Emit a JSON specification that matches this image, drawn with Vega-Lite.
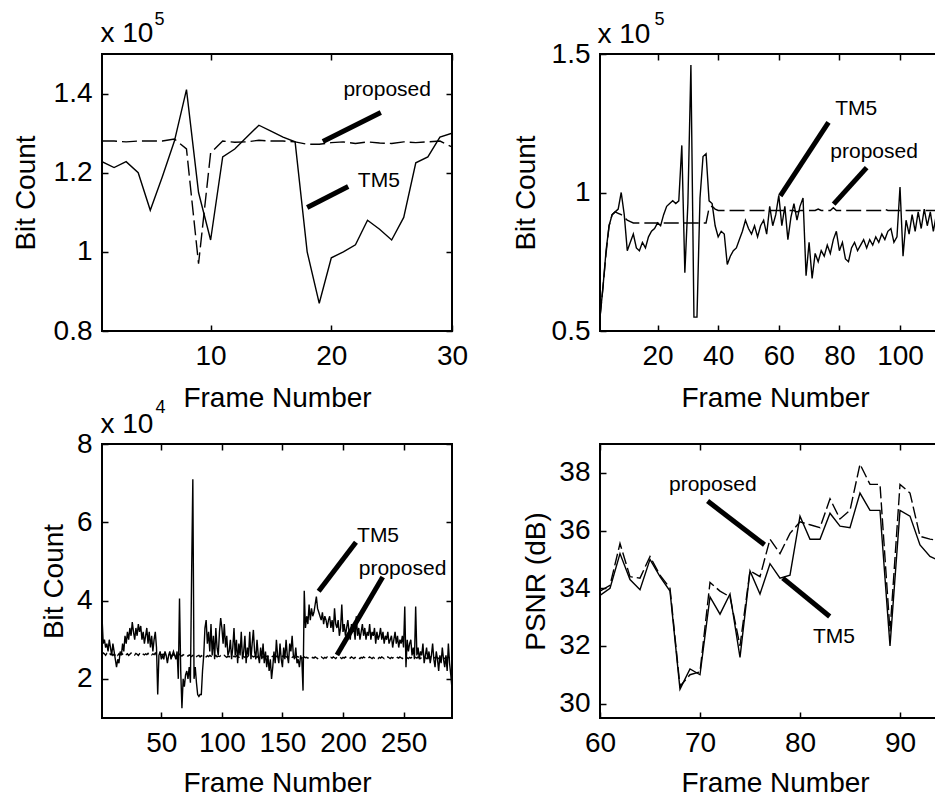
{
  "$schema": "https://vega.github.io/schema/vega-lite/v6.json",
  "background": "white",
  "padding": {"left": 10, "top": 9, "right": 0, "bottom": 0},
  "columns": 2,
  "bounds": "flush",
  "spacing": {"row": 113, "column": 148},
  "config": {
    "font": "Liberation Sans",
    "view": {"stroke": "black", "strokeWidth": 2},
    "axis": {"domain": false, "grid": false, "ticks": true, "tickSize": -6, "tickWidth": 1.5, "tickColor": "black",
             "labelFont": "Liberation Sans", "labelFontSize": 28, "labelColor": "black", "labelFlush": false, "labelOverlap": false,
             "titleFont": "Liberation Sans", "titleFontSize": 28, "titleFontWeight": "normal", "titleColor": "black"},
    "text": {"font": "Liberation Sans", "fontSize": 21, "color": "black"}
  },
  "concat": [
    {
      "width": 350, "height": 277,
      "data": {"values": [
        {"f":1,"a":1.228,"b":1.28},{"f":2,"a":1.213,"b":1.28},{"f":3,"a":1.228,"b":1.278},{"f":4,"a":1.2,"b":1.28},{"f":5,"a":1.105,"b":1.28},
        {"f":6,"a":1.19,"b":1.28},{"f":7,"a":1.28,"b":1.285},{"f":8,"a":1.41,"b":1.26},{"f":9,"a":1.15,"b":0.97},{"f":10,"a":1.03,"b":1.25},
        {"f":11,"a":1.24,"b":1.28},{"f":12,"a":1.26,"b":1.277},{"f":13,"a":1.29,"b":1.278},{"f":14,"a":1.32,"b":1.282},{"f":15,"a":1.305,"b":1.28},
        {"f":16,"a":1.29,"b":1.28},{"f":17,"a":1.278,"b":1.278},{"f":18,"a":1.0,"b":1.272},{"f":19,"a":0.87,"b":1.272},{"f":20,"a":0.985,"b":1.276},
        {"f":21,"a":1.0,"b":1.278},{"f":22,"a":1.018,"b":1.274},{"f":23,"a":1.08,"b":1.278},{"f":24,"a":1.057,"b":1.275},{"f":25,"a":1.03,"b":1.274},
        {"f":26,"a":1.087,"b":1.278},{"f":27,"a":1.225,"b":1.276},{"f":28,"a":1.24,"b":1.278},{"f":29,"a":1.29,"b":1.28},{"f":30,"a":1.3,"b":1.265}
      ]},
      "layer": [
        {"mark": {"type": "line", "color": "black", "strokeWidth": 1.4, "clip": true},
         "encoding": {
           "x": {"field": "f", "type": "quantitative", "scale": {"domain": [1, 30], "nice": false, "zero": false},
                 "axis": {"orient": "bottom", "values": [10, 20, 30], "title": "Frame Number", "titleY": 75, "titleBaseline": "alphabetic", "labelPadding": 39, "labelBaseline": "alphabetic"}},
           "y": {"field": "a", "type": "quantitative", "scale": {"domain": [0.8, 1.5], "nice": false, "zero": false},
                 "axis": {"orient": "left", "values": [0.8, 1, 1.2, 1.4], "format": "~g", "title": "Bit Count", "titleX": -68, "titleBaseline": "alphabetic", "labelPadding": 16}}
         }},
        {"mark": {"type": "line", "color": "black", "strokeWidth": 1.4, "strokeDash": [15, 5], "clip": true},
         "encoding": {
           "x": {"field": "f", "type": "quantitative",
                 "axis": {"orient": "top", "values": [10, 20, 30], "labels": false, "title": "x 10", "titleX": -2, "titleY": -13, "titleAlign": "left", "titleBaseline": "alphabetic", "titleAngle": 0}},
           "y": {"field": "b", "type": "quantitative",
                 "axis": {"orient": "right", "values": [0.8, 1, 1.2, 1.4], "labels": false, "title": "5", "titleX": -298, "titleY": -30, "titleAlign": "left", "titleBaseline": "alphabetic", "titleAngle": 0, "titleFontSize": 18}}
         }},
        {"data": {"values": [{"x": 19.3, "y": 1.279, "x2": 24.1, "y2": 1.352}, {"x": 18.0, "y": 1.112, "x2": 21.4, "y2": 1.165}]},
         "mark": {"type": "rule", "strokeWidth": 5, "color": "black"},
         "encoding": {"x": {"field": "x", "type": "quantitative", "axis": null}, "y": {"field": "y", "type": "quantitative", "axis": null}, "x2": {"field": "x2"}, "y2": {"field": "y2"}}},
        {"data": {"values": [{"x": 21.0, "y": 1.41, "t": "proposed"}, {"x": 22.2, "y": 1.178, "t": "TM5"}]},
         "mark": {"type": "text", "align": "left", "baseline": "middle"},
         "encoding": {"x": {"field": "x", "type": "quantitative", "axis": null}, "y": {"field": "y", "type": "quantitative", "axis": null}, "text": {"field": "t"}}}
      ],
      "resolve": {"axis": {"x": "independent", "y": "independent"}}
    },
    {
      "width": 350, "height": 277,
      "data": {"values": [
        {"f":1,"a":0.55,"b":0.55},{"f":2,"a":0.66,"b":0.66},{"f":3,"a":0.79,"b":0.78},{"f":4,"a":0.88,"b":0.88},{"f":5,"a":0.92,"b":0.92},
        {"f":6,"a":0.93,"b":0.93},{"f":7,"a":0.94,"b":0.925},{"f":8,"a":1.0,"b":0.92},{"f":9,"a":0.92,"b":0.91},{"f":10,"a":0.79,"b":0.9},
        {"f":11,"a":0.82,"b":0.895},{"f":12,"a":0.85,"b":0.89},{"f":13,"a":0.8,"b":0.89},{"f":14,"a":0.79,"b":0.89},{"f":15,"a":0.82,"b":0.89},
        {"f":16,"a":0.8,"b":0.89},{"f":17,"a":0.84,"b":0.89},{"f":18,"a":0.86,"b":0.89},{"f":19,"a":0.87,"b":0.89},{"f":20,"a":0.89,"b":0.89},
        {"f":21,"a":0.88,"b":0.885},{"f":22,"a":0.92,"b":0.89},{"f":23,"a":0.95,"b":0.89},{"f":24,"a":0.96,"b":0.89},{"f":25,"a":0.97,"b":0.89},
        {"f":26,"a":0.96,"b":0.89},{"f":27,"a":0.97,"b":0.89},{"f":28,"a":1.17,"b":0.89},{"f":29,"a":0.71,"b":0.89},{"f":30,"a":0.96,"b":0.89},
        {"f":31,"a":1.46,"b":0.89},{"f":32,"a":0.55,"b":0.89},{"f":33,"a":0.55,"b":0.89},{"f":34,"a":0.98,"b":0.89},{"f":35,"a":1.13,"b":0.89},
        {"f":36,"a":1.14,"b":0.89},{"f":37,"a":0.97,"b":0.945},{"f":38,"a":0.96,"b":0.95},{"f":39,"a":0.88,"b":0.94},{"f":40,"a":0.84,"b":0.935},
        {"f":41,"a":0.86,"b":0.935},{"f":42,"a":0.85,"b":0.935},{"f":43,"a":0.74,"b":0.935},{"f":44,"a":0.77,"b":0.935},{"f":45,"a":0.79,"b":0.935},
        {"f":46,"a":0.8,"b":0.935},{"f":47,"a":0.83,"b":0.935},{"f":48,"a":0.86,"b":0.935},{"f":49,"a":0.9,"b":0.935},{"f":50,"a":0.87,"b":0.935},
        {"f":51,"a":0.85,"b":0.935},{"f":52,"a":0.88,"b":0.935},{"f":53,"a":0.84,"b":0.935},{"f":54,"a":0.88,"b":0.935},{"f":55,"a":0.9,"b":0.935},
        {"f":56,"a":0.85,"b":0.935},{"f":57,"a":0.95,"b":0.935},{"f":58,"a":0.88,"b":0.935},{"f":59,"a":0.92,"b":0.935},{"f":60,"a":0.99,"b":0.935},
        {"f":61,"a":0.88,"b":0.935},{"f":62,"a":0.95,"b":0.935},{"f":63,"a":0.83,"b":0.935},{"f":64,"a":0.91,"b":0.935},{"f":65,"a":0.96,"b":0.935},
        {"f":66,"a":0.9,"b":0.93},{"f":67,"a":0.95,"b":0.935},{"f":68,"a":0.98,"b":0.935},{"f":69,"a":0.7,"b":0.935},{"f":70,"a":0.82,"b":0.935},
        {"f":71,"a":0.69,"b":0.935},{"f":72,"a":0.78,"b":0.935},{"f":73,"a":0.75,"b":0.94},{"f":74,"a":0.79,"b":0.935},{"f":75,"a":0.77,"b":0.935},
        {"f":76,"a":0.81,"b":0.935},{"f":77,"a":0.78,"b":0.935},{"f":78,"a":0.83,"b":0.945},{"f":79,"a":0.86,"b":0.935},{"f":80,"a":0.79,"b":0.935},
        {"f":81,"a":0.82,"b":0.935},{"f":82,"a":0.76,"b":0.935},{"f":83,"a":0.75,"b":0.935},{"f":84,"a":0.8,"b":0.935},{"f":85,"a":0.82,"b":0.935},
        {"f":86,"a":0.79,"b":0.935},{"f":87,"a":0.81,"b":0.935},{"f":88,"a":0.83,"b":0.935},{"f":89,"a":0.8,"b":0.935},{"f":90,"a":0.83,"b":0.935},
        {"f":91,"a":0.81,"b":0.935},{"f":92,"a":0.84,"b":0.935},{"f":93,"a":0.82,"b":0.935},{"f":94,"a":0.85,"b":0.935},{"f":95,"a":0.83,"b":0.94},
        {"f":96,"a":0.86,"b":0.935},{"f":97,"a":0.87,"b":0.935},{"f":98,"a":0.82,"b":0.935},{"f":99,"a":0.84,"b":0.935},{"f":100,"a":1.02,"b":0.935},
        {"f":101,"a":0.77,"b":0.935},{"f":102,"a":0.9,"b":0.935},{"f":103,"a":0.85,"b":0.935},{"f":104,"a":0.92,"b":0.935},{"f":105,"a":0.86,"b":0.935},
        {"f":106,"a":0.93,"b":0.935},{"f":107,"a":0.87,"b":0.935},{"f":108,"a":0.94,"b":0.935},{"f":109,"a":0.88,"b":0.935},{"f":110,"a":0.93,"b":0.935},
        {"f":111,"a":0.86,"b":0.935},{"f":112,"a":0.92,"b":0.935},{"f":113,"a":0.89,"b":0.935},{"f":114,"a":0.95,"b":0.935},{"f":115,"a":0.87,"b":0.935},
        {"f":116,"a":0.93,"b":0.935}
      ]},
      "layer": [
        {"mark": {"type": "line", "color": "black", "strokeWidth": 1.4, "clip": true},
         "encoding": {
           "x": {"field": "f", "type": "quantitative", "scale": {"domain": [1, 116.5], "nice": false, "zero": false},
                 "axis": {"orient": "bottom", "values": [20, 40, 60, 80, 100, 120], "title": "Frame Number", "titleY": 75, "titleBaseline": "alphabetic", "labelPadding": 39, "labelBaseline": "alphabetic"}},
           "y": {"field": "a", "type": "quantitative", "scale": {"domain": [0.5, 1.5], "nice": false, "zero": false},
                 "axis": {"orient": "left", "values": [0.5, 1, 1.5], "format": "~g", "title": "Bit Count", "titleX": -66, "titleBaseline": "alphabetic", "labelPadding": 16}}
         }},
        {"mark": {"type": "line", "color": "black", "strokeWidth": 1.4, "strokeDash": [15, 5], "clip": true},
         "encoding": {
           "x": {"field": "f", "type": "quantitative",
                 "axis": {"orient": "top", "values": [20, 40, 60, 80, 100], "labels": false, "title": "x 10", "titleX": -3, "titleY": -12, "titleAlign": "left", "titleBaseline": "alphabetic", "titleAngle": 0}},
           "y": {"field": "b", "type": "quantitative",
                 "axis": {"orient": "right", "values": [0.5, 1, 1.5], "labels": false, "title": "5", "titleX": -296, "titleY": -30, "titleAlign": "left", "titleBaseline": "alphabetic", "titleAngle": 0, "titleFontSize": 18}}
         }},
        {"data": {"values": [{"x": 60.5, "y": 0.988, "x2": 76.4, "y2": 1.253}, {"x": 78.1, "y": 0.958, "x2": 89.0, "y2": 1.09}]},
         "mark": {"type": "rule", "strokeWidth": 5, "color": "black"},
         "encoding": {"x": {"field": "x", "type": "quantitative", "axis": null}, "y": {"field": "y", "type": "quantitative", "axis": null}, "x2": {"field": "x2"}, "y2": {"field": "y2"}}},
        {"data": {"values": [{"x": 78.6, "y": 1.303, "t": "TM5"}, {"x": 77.0, "y": 1.145, "t": "proposed"}]},
         "mark": {"type": "text", "align": "left", "baseline": "middle"},
         "encoding": {"x": {"field": "x", "type": "quantitative", "axis": null}, "y": {"field": "y", "type": "quantitative", "axis": null}, "text": {"field": "t"}}}
      ],
      "resolve": {"axis": {"x": "independent", "y": "independent"}}
    },
    {
      "width": 350, "height": 274,
      "data": {"values": [
        {"f":1,"a":3.6,"b":2.62},{"f":2,"a":2.9,"b":2.66},{"f":3,"a":3.0,"b":2.64},{"f":4,"a":2.8,"b":2.6},{"f":5,"a":2.9,"b":2.65},
        {"f":6,"a":2.7,"b":2.63},{"f":7,"a":3.0,"b":2.67},{"f":8,"a":2.8,"b":2.62},{"f":9,"a":2.6,"b":2.64},{"f":10,"a":2.9,"b":2.6},
        {"f":11,"a":2.7,"b":2.63},{"f":12,"a":2.5,"b":2.61},{"f":13,"a":2.3,"b":2.65},{"f":14,"a":2.5,"b":2.6},{"f":15,"a":2.4,"b":2.64},
        {"f":16,"a":2.7,"b":2.62},{"f":17,"a":2.6,"b":2.66},{"f":18,"a":2.9,"b":2.63},{"f":19,"a":2.7,"b":2.61},{"f":20,"a":3.1,"b":2.65},
        {"f":21,"a":2.9,"b":2.62},{"f":22,"a":3.2,"b":2.64},{"f":23,"a":3.0,"b":2.6},{"f":24,"a":3.3,"b":2.63},{"f":25,"a":3.1,"b":2.66},
        {"f":26,"a":3.45,"b":2.62},{"f":27,"a":3.2,"b":2.64},{"f":28,"a":3.0,"b":2.61},{"f":29,"a":3.3,"b":2.65},{"f":30,"a":3.1,"b":2.63},
        {"f":31,"a":3.4,"b":2.6},{"f":32,"a":3.2,"b":2.64},{"f":33,"a":3.35,"b":2.62},{"f":34,"a":3.0,"b":2.66},{"f":35,"a":3.2,"b":2.63},
        {"f":36,"a":2.9,"b":2.61},{"f":37,"a":3.1,"b":2.64},{"f":38,"a":3.3,"b":2.62},{"f":39,"a":2.9,"b":2.65},{"f":40,"a":3.2,"b":2.6},
        {"f":41,"a":2.8,"b":2.63},{"f":42,"a":3.1,"b":2.61},{"f":43,"a":2.7,"b":2.64},{"f":44,"a":3.0,"b":2.62},{"f":45,"a":3.2,"b":2.66},
        {"f":46,"a":2.8,"b":2.6},{"f":47,"a":1.6,"b":2.63},{"f":48,"a":2.6,"b":2.61},{"f":49,"a":2.7,"b":2.64},{"f":50,"a":2.5,"b":2.62},
        {"f":51,"a":2.6,"b":2.6},{"f":52,"a":2.5,"b":2.63},{"f":53,"a":2.7,"b":2.61},{"f":54,"a":2.6,"b":2.64},{"f":55,"a":2.4,"b":2.62},
        {"f":56,"a":2.6,"b":2.6},{"f":57,"a":2.7,"b":2.63},{"f":58,"a":2.5,"b":2.61},{"f":59,"a":2.6,"b":2.59},{"f":60,"a":2.7,"b":2.62},
        {"f":61,"a":2.6,"b":2.6},{"f":62,"a":2.5,"b":2.62},{"f":63,"a":2.7,"b":2.58},{"f":64,"a":2.0,"b":2.61},{"f":65,"a":4.05,"b":2.63},
        {"f":66,"a":2.2,"b":2.6},{"f":67,"a":1.25,"b":2.58},{"f":68,"a":2.0,"b":2.62},{"f":69,"a":1.8,"b":2.6},{"f":70,"a":2.1,"b":2.57},
        {"f":71,"a":2.2,"b":2.6},{"f":72,"a":2.0,"b":2.58},{"f":73,"a":2.3,"b":2.61},{"f":74,"a":1.9,"b":2.59},{"f":75,"a":4.7,"b":2.57},
        {"f":76,"a":7.1,"b":2.6},{"f":77,"a":2.0,"b":2.58},{"f":78,"a":2.3,"b":2.61},{"f":79,"a":1.9,"b":2.57},{"f":80,"a":1.6,"b":2.59},
        {"f":81,"a":1.55,"b":2.6},{"f":82,"a":1.6,"b":2.56},{"f":83,"a":1.6,"b":2.59},{"f":84,"a":2.2,"b":2.57},{"f":85,"a":2.6,"b":2.6},
        {"f":86,"a":3.3,"b":2.58},{"f":87,"a":3.5,"b":2.56},{"f":88,"a":2.9,"b":2.59},{"f":89,"a":3.2,"b":2.57},{"f":90,"a":2.7,"b":2.6},
        {"f":91,"a":3.4,"b":2.58},{"f":92,"a":2.6,"b":2.55},{"f":93,"a":3.1,"b":2.59},{"f":94,"a":2.5,"b":2.57},{"f":95,"a":3.3,"b":2.6},
        {"f":96,"a":2.8,"b":2.56},{"f":97,"a":2.6,"b":2.58},{"f":98,"a":3.2,"b":2.57},{"f":99,"a":3.55,"b":2.59},{"f":100,"a":3.3,"b":2.56},
        {"f":101,"a":2.9,"b":2.58},{"f":102,"a":3.4,"b":2.6},{"f":103,"a":2.8,"b":2.57},{"f":104,"a":3.1,"b":2.55},{"f":105,"a":2.6,"b":2.58},
        {"f":106,"a":2.7,"b":2.56},{"f":107,"a":3.0,"b":2.59},{"f":108,"a":2.5,"b":2.57},{"f":109,"a":2.8,"b":2.55},{"f":110,"a":3.3,"b":2.58},
        {"f":111,"a":2.6,"b":2.56},{"f":112,"a":3.0,"b":2.59},{"f":113,"a":2.4,"b":2.57},{"f":114,"a":2.9,"b":2.55},{"f":115,"a":2.6,"b":2.58},
        {"f":116,"a":3.2,"b":2.56},{"f":117,"a":2.5,"b":2.59},{"f":118,"a":2.7,"b":2.57},{"f":119,"a":3.1,"b":2.55},{"f":120,"a":2.4,"b":2.58},
        {"f":121,"a":2.8,"b":2.56},{"f":122,"a":2.6,"b":2.59},{"f":123,"a":3.2,"b":2.57},{"f":124,"a":2.5,"b":2.55},{"f":125,"a":2.9,"b":2.58},
        {"f":126,"a":3.25,"b":2.56},{"f":127,"a":2.7,"b":2.58},{"f":128,"a":2.5,"b":2.57},{"f":129,"a":3.0,"b":2.55},{"f":130,"a":2.6,"b":2.58},
        {"f":131,"a":2.4,"b":2.56},{"f":132,"a":2.8,"b":2.59},{"f":133,"a":2.5,"b":2.57},{"f":134,"a":2.9,"b":2.55},{"f":135,"a":2.4,"b":2.58},
        {"f":136,"a":2.7,"b":2.56},{"f":137,"a":2.3,"b":2.58},{"f":138,"a":2.6,"b":2.57},{"f":139,"a":2.2,"b":2.55},{"f":140,"a":2.5,"b":2.58},
        {"f":141,"a":2.0,"b":2.56},{"f":142,"a":2.3,"b":2.58},{"f":143,"a":2.7,"b":2.57},{"f":144,"a":2.4,"b":2.55},{"f":145,"a":3.0,"b":2.58},
        {"f":146,"a":2.6,"b":2.56},{"f":147,"a":2.4,"b":2.58},{"f":148,"a":2.9,"b":2.57},{"f":149,"a":2.5,"b":2.55},{"f":150,"a":2.3,"b":2.58},
        {"f":151,"a":2.8,"b":2.56},{"f":152,"a":2.5,"b":2.58},{"f":153,"a":3.0,"b":2.57},{"f":154,"a":2.6,"b":2.55},{"f":155,"a":2.4,"b":2.57},
        {"f":156,"a":2.9,"b":2.56},{"f":157,"a":2.7,"b":2.58},{"f":158,"a":3.1,"b":2.55},{"f":159,"a":2.6,"b":2.57},{"f":160,"a":2.5,"b":2.56},
        {"f":161,"a":2.8,"b":2.55},{"f":162,"a":2.4,"b":2.57},{"f":163,"a":2.5,"b":2.56},{"f":164,"a":2.3,"b":2.54},{"f":165,"a":2.6,"b":2.57},
        {"f":166,"a":2.5,"b":2.55},{"f":167,"a":1.7,"b":2.53},{"f":168,"a":4.25,"b":2.56},{"f":169,"a":3.3,"b":2.54},{"f":170,"a":3.6,"b":2.55},
        {"f":171,"a":3.4,"b":2.53},{"f":172,"a":3.9,"b":2.56},{"f":173,"a":3.5,"b":2.54},{"f":174,"a":3.8,"b":2.52},{"f":175,"a":3.6,"b":2.55},
        {"f":176,"a":3.7,"b":2.53},{"f":177,"a":3.9,"b":2.56},{"f":178,"a":4.1,"b":2.54},{"f":179,"a":3.8,"b":2.52},{"f":180,"a":3.7,"b":2.55},
        {"f":181,"a":3.6,"b":2.53},{"f":182,"a":3.5,"b":2.56},{"f":183,"a":3.7,"b":2.54},{"f":184,"a":3.4,"b":2.52},{"f":185,"a":3.6,"b":2.55},
        {"f":186,"a":3.5,"b":2.53},{"f":187,"a":3.3,"b":2.56},{"f":188,"a":3.5,"b":2.54},{"f":189,"a":3.6,"b":2.52},{"f":190,"a":3.3,"b":2.55},
        {"f":191,"a":3.5,"b":2.53},{"f":192,"a":3.2,"b":2.56},{"f":193,"a":3.8,"b":2.54},{"f":194,"a":3.4,"b":2.52},{"f":195,"a":3.3,"b":2.55},
        {"f":196,"a":3.5,"b":2.53},{"f":197,"a":3.1,"b":2.56},{"f":198,"a":3.3,"b":2.54},{"f":199,"a":3.9,"b":2.52},{"f":200,"a":3.2,"b":2.55},
        {"f":201,"a":3.4,"b":2.53},{"f":202,"a":3.1,"b":2.56},{"f":203,"a":3.3,"b":2.54},{"f":204,"a":3.5,"b":2.52},{"f":205,"a":3.2,"b":2.55},
        {"f":206,"a":3.0,"b":2.53},{"f":207,"a":3.4,"b":2.56},{"f":208,"a":3.2,"b":2.54},{"f":209,"a":3.3,"b":2.52},{"f":210,"a":3.0,"b":2.55},
        {"f":211,"a":3.6,"b":2.53},{"f":212,"a":3.1,"b":2.56},{"f":213,"a":3.3,"b":2.54},{"f":214,"a":3.0,"b":2.52},{"f":215,"a":3.2,"b":2.55},
        {"f":216,"a":3.4,"b":2.53},{"f":217,"a":3.1,"b":2.56},{"f":218,"a":3.3,"b":2.54},{"f":219,"a":3.0,"b":2.52},{"f":220,"a":3.2,"b":2.55},
        {"f":221,"a":3.1,"b":2.53},{"f":222,"a":3.4,"b":2.56},{"f":223,"a":3.0,"b":2.54},{"f":224,"a":3.2,"b":2.52},{"f":225,"a":3.1,"b":2.55},
        {"f":226,"a":3.3,"b":2.53},{"f":227,"a":2.9,"b":2.56},{"f":228,"a":3.2,"b":2.54},{"f":229,"a":3.0,"b":2.52},{"f":230,"a":3.1,"b":2.55},
        {"f":231,"a":3.3,"b":2.53},{"f":232,"a":3.0,"b":2.56},{"f":233,"a":3.2,"b":2.54},{"f":234,"a":2.9,"b":2.52},{"f":235,"a":3.1,"b":2.55},
        {"f":236,"a":3.0,"b":2.53},{"f":237,"a":3.2,"b":2.56},{"f":238,"a":2.9,"b":2.54},{"f":239,"a":3.0,"b":2.52},{"f":240,"a":3.1,"b":2.55},
        {"f":241,"a":2.8,"b":2.53},{"f":242,"a":3.0,"b":2.56},{"f":243,"a":3.2,"b":2.54},{"f":244,"a":2.9,"b":2.52},{"f":245,"a":3.1,"b":2.55},
        {"f":246,"a":2.8,"b":2.53},{"f":247,"a":3.0,"b":2.56},{"f":248,"a":2.9,"b":2.54},{"f":249,"a":3.1,"b":2.52},{"f":250,"a":2.8,"b":2.55},
        {"f":251,"a":3.85,"b":2.53},{"f":252,"a":2.3,"b":2.5},{"f":253,"a":3.0,"b":2.54},{"f":254,"a":2.7,"b":2.52},{"f":255,"a":2.9,"b":2.55},
        {"f":256,"a":3.0,"b":2.53},{"f":257,"a":2.6,"b":2.56},{"f":258,"a":2.8,"b":2.54},{"f":259,"a":2.5,"b":2.52},{"f":260,"a":3.85,"b":2.55},
        {"f":261,"a":2.6,"b":2.53},{"f":262,"a":2.8,"b":2.56},{"f":263,"a":2.5,"b":2.54},{"f":264,"a":2.7,"b":2.52},{"f":265,"a":2.6,"b":2.55},
        {"f":266,"a":2.9,"b":2.53},{"f":267,"a":2.4,"b":2.56},{"f":268,"a":2.6,"b":2.54},{"f":269,"a":2.8,"b":2.52},{"f":270,"a":2.5,"b":2.55},
        {"f":271,"a":2.7,"b":2.53},{"f":272,"a":2.4,"b":2.56},{"f":273,"a":2.6,"b":2.54},{"f":274,"a":2.9,"b":2.52},{"f":275,"a":2.5,"b":2.55},
        {"f":276,"a":2.3,"b":2.53},{"f":277,"a":2.7,"b":2.56},{"f":278,"a":2.5,"b":2.54},{"f":279,"a":2.2,"b":2.52},{"f":280,"a":2.6,"b":2.55},
        {"f":281,"a":2.4,"b":2.53},{"f":282,"a":2.8,"b":2.56},{"f":283,"a":2.5,"b":2.54},{"f":284,"a":2.3,"b":2.52},{"f":285,"a":2.6,"b":2.55},
        {"f":286,"a":2.2,"b":2.53},{"f":287,"a":2.9,"b":2.56},{"f":288,"a":2.4,"b":2.54},{"f":289,"a":2.1,"b":2.52},{"f":290,"a":1.75,"b":2.5}
      ]},
      "layer": [
        {"mark": {"type": "line", "color": "black", "strokeWidth": 1.4, "clip": true},
         "encoding": {
           "x": {"field": "f", "type": "quantitative", "scale": {"domain": [1, 290], "nice": false, "zero": false},
                 "axis": {"orient": "bottom", "values": [50, 100, 150, 200, 250], "title": "Frame Number", "titleY": 73, "titleBaseline": "alphabetic", "labelPadding": 39, "labelBaseline": "alphabetic"}},
           "y": {"field": "a", "type": "quantitative", "scale": {"domain": [1, 8], "nice": false, "zero": false},
                 "axis": {"orient": "left", "values": [2, 4, 6, 8], "format": "~g", "title": "Bit Count", "titleX": -40, "titleBaseline": "alphabetic", "labelPadding": 16}}
         }},
        {"mark": {"type": "line", "color": "black", "strokeWidth": 1.4, "strokeDash": [8, 4], "clip": true},
         "encoding": {
           "x": {"field": "f", "type": "quantitative",
                 "axis": {"orient": "top", "values": [50, 100, 150, 200, 250], "labels": false, "title": "x 10", "titleX": -2, "titleY": -12, "titleAlign": "left", "titleBaseline": "alphabetic", "titleAngle": 0}},
           "y": {"field": "b", "type": "quantitative",
                 "axis": {"orient": "right", "values": [2, 4, 6, 8], "labels": false, "title": "4", "titleX": -297, "titleY": -32, "titleAlign": "left", "titleBaseline": "alphabetic", "titleAngle": 0, "titleFontSize": 18}}
         }},
        {"data": {"values": [{"x": 179.9, "y": 4.24, "x2": 210.7, "y2": 5.49}, {"x": 195, "y": 2.61, "x2": 232.8, "y2": 4.6}]},
         "mark": {"type": "rule", "strokeWidth": 5, "color": "black"},
         "encoding": {"x": {"field": "x", "type": "quantitative", "axis": null}, "y": {"field": "y", "type": "quantitative", "axis": null}, "x2": {"field": "x2"}, "y2": {"field": "y2"}}},
        {"data": {"values": [{"x": 211.6, "y": 5.65, "t": "TM5"}, {"x": 213, "y": 4.81, "t": "proposed"}]},
         "mark": {"type": "text", "align": "left", "baseline": "middle"},
         "encoding": {"x": {"field": "x", "type": "quantitative", "axis": null}, "y": {"field": "y", "type": "quantitative", "axis": null}, "text": {"field": "t"}}}
      ],
      "resolve": {"axis": {"x": "independent", "y": "independent"}}
    },
    {
      "width": 350, "height": 274,
      "data": {"values": [
        {"f":60,"a":33.75,"b":33.9},{"f":61,"a":34.0,"b":34.1},{"f":62,"a":35.2,"b":35.55},{"f":63,"a":34.3,"b":34.4},{"f":64,"a":33.95,"b":34.35},
        {"f":65,"a":35.0,"b":35.1},{"f":66,"a":34.4,"b":34.45},{"f":67,"a":33.9,"b":34.0},{"f":68,"a":30.5,"b":30.6},{"f":69,"a":31.2,"b":31.0},
        {"f":70,"a":31.0,"b":31.1},{"f":71,"a":33.7,"b":34.2},{"f":72,"a":33.1,"b":33.9},{"f":73,"a":33.8,"b":33.7},{"f":74,"a":31.6,"b":32.0},
        {"f":75,"a":34.6,"b":34.6},{"f":76,"a":33.8,"b":34.4},{"f":77,"a":34.85,"b":35.7},{"f":78,"a":34.35,"b":35.2},{"f":79,"a":34.45,"b":35.9},
        {"f":80,"a":36.5,"b":36.3},{"f":81,"a":35.7,"b":36.2},{"f":82,"a":35.7,"b":36.1},{"f":83,"a":36.6,"b":37.1},{"f":84,"a":36.15,"b":36.4},
        {"f":85,"a":36.1,"b":36.7},{"f":86,"a":37.3,"b":38.3},{"f":87,"a":36.7,"b":37.6},{"f":88,"a":36.7,"b":37.6},{"f":89,"a":32.0,"b":32.5},
        {"f":90,"a":36.7,"b":37.6},{"f":91,"a":36.5,"b":37.3},{"f":92,"a":35.5,"b":35.8},{"f":93,"a":35.1,"b":35.7},{"f":94,"a":34.95,"b":35.65},
        {"f":95,"a":34.9,"b":35.65}
      ]},
      "layer": [
        {"mark": {"type": "line", "color": "black", "strokeWidth": 1.4, "clip": true},
         "encoding": {
           "x": {"field": "f", "type": "quantitative", "scale": {"domain": [60, 95], "nice": false, "zero": false},
                 "axis": {"orient": "bottom", "values": [60, 70, 80, 90], "title": "Frame Number", "titleY": 73, "titleBaseline": "alphabetic", "labelPadding": 39, "labelBaseline": "alphabetic"}},
           "y": {"field": "a", "type": "quantitative", "scale": {"domain": [29.5, 39], "nice": false, "zero": false},
                 "axis": {"orient": "left", "values": [30, 32, 34, 36, 38], "format": "~g", "title": "PSNR (dB)", "titleX": -56, "titleBaseline": "alphabetic", "labelPadding": 16}}
         }},
        {"mark": {"type": "line", "color": "black", "strokeWidth": 1.4, "strokeDash": [12, 4], "clip": true},
         "encoding": {
           "x": {"field": "f", "type": "quantitative",
                 "axis": {"orient": "top", "values": [60, 70, 80, 90], "labels": false, "title": null}},
           "y": {"field": "b", "type": "quantitative",
                 "axis": {"orient": "right", "values": [30, 32, 34, 36, 38], "labels": false, "title": null}}
         }},
        {"data": {"values": [{"x": 70.76, "y": 37.02, "x2": 76.45, "y2": 35.51}, {"x": 78.28, "y": 34.35, "x2": 82.97, "y2": 33.02}]},
         "mark": {"type": "rule", "strokeWidth": 5, "color": "black"},
         "encoding": {"x": {"field": "x", "type": "quantitative", "axis": null}, "y": {"field": "y", "type": "quantitative", "axis": null}, "x2": {"field": "x2"}, "y2": {"field": "y2"}}},
        {"data": {"values": [{"x": 66.9, "y": 37.57, "t": "proposed"}, {"x": 81.3, "y": 32.32, "t": "TM5"}]},
         "mark": {"type": "text", "align": "left", "baseline": "middle"},
         "encoding": {"x": {"field": "x", "type": "quantitative", "axis": null}, "y": {"field": "y", "type": "quantitative", "axis": null}, "text": {"field": "t"}}}
      ],
      "resolve": {"axis": {"x": "independent", "y": "independent"}}
    }
  ]
}
